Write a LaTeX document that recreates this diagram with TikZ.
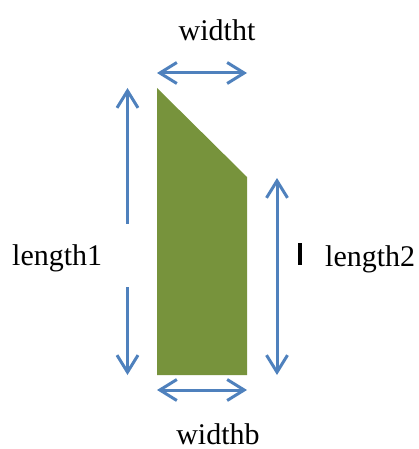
\documentclass[tikz,border=0pt]{standalone}
\usepackage{fontspec}
\setmainfont{Liberation Serif}
\usetikzlibrary{arrows.meta}
\definecolor{olivefill}{HTML}{77933C}
\definecolor{arrowblue}{HTML}{4F81BD}
\tikzset{
  dimarrow/.style={draw=arrowblue, line width=3pt,
    arrows={Straight Barb[length=17pt,width=21pt,line width=3pt]-Straight Barb[length=17pt,width=21pt,line width=3pt]}},
  halfup/.style={draw=arrowblue, line width=3pt,
    arrows={Straight Barb[length=17pt,width=21pt,line width=3pt]-}},
  halfdown/.style={draw=arrowblue, line width=3pt,
    arrows={-Straight Barb[length=17pt,width=21pt,line width=3pt]}},
  lbl/.style={inner sep=0pt, font=\fontsize{30}{36}\selectfont, anchor=base}
}
\begin{document}
\begin{tikzpicture}[x=1pt,y=-1pt]
\useasboundingbox (0,0) rectangle (419,449);
% shape
\fill[olivefill] (157,88) -- (247,177) -- (247,375) -- (157,375) -- cycle;
% coordinates
\coordinate (tl) at (157,73);
\coordinate (tr) at (247,73);
\coordinate (bl) at (157,390);
\coordinate (br) at (247,390);
\coordinate (lt) at (127.5,88);
\coordinate (lm1) at (127.5,224);
\coordinate (lm2) at (127.5,287);
\coordinate (lb) at (127.5,375);
\coordinate (rt) at (277,178);
\coordinate (rb) at (277,375);
% arrows
\draw[dimarrow] (tl) -- (tr);
\draw[dimarrow] (bl) -- (br);
\draw[dimarrow] (rt) -- (rb);
\draw[halfup] (lt) -- (lm1);
\draw[halfdown] (lm2) -- (lb);
% labels
\node[lbl] (wt) at (217,41) {widtht};
\node[lbl] (wb) at (218,444.5) {widthb};
\node[lbl, anchor=base west] (l1) at (12,265) {length1};
\node[lbl, anchor=base west] (l2) at (325,266) {length2};
\fill[black] (298,243) rectangle (302,265);
\end{tikzpicture}
\end{document}
